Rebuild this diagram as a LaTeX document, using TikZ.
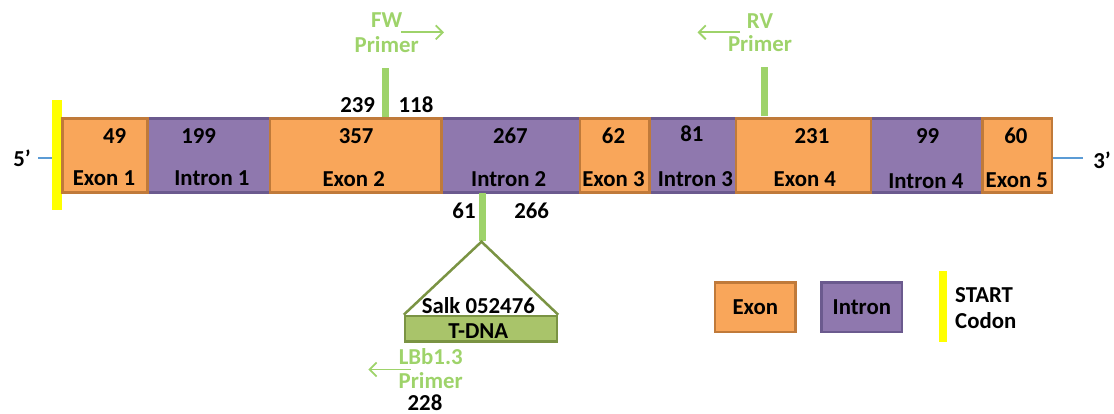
\documentclass[tikz,border=0pt]{standalone}
\usepackage{fontspec}
\setmainfont{Carlito}
\usetikzlibrary{arrows.meta}
\definecolor{exonfill}{HTML}{F9A65A}
\definecolor{exonline}{HTML}{C07A3A}
\definecolor{intronfill}{HTML}{8F78AE}
\definecolor{intronline}{HTML}{6B5A8E}
\definecolor{primerc}{HTML}{9ED36A}
\definecolor{tdnafill}{HTML}{A9C46A}
\definecolor{tdnaline}{HTML}{7A9343}
\definecolor{dnaline}{HTML}{5B9BD5}
\definecolor{startc}{HTML}{FFFF00}
\begin{document}
\begin{tikzpicture}[x=1pt,y=-1pt,
  font=\fontsize{22.8}{26}\selectfont\bfseries,
  exonbox/.style={draw=exonline, fill=exonfill, line width=2.5pt, inner sep=0pt, minimum height=74.4pt},
  intronbox/.style={draw=intronline, fill=intronfill, line width=2.5pt, inner sep=0pt, minimum height=74.4pt},
  legbox/.style={line width=2.5pt, inner sep=0pt, minimum height=49.3pt, minimum width=80.5pt, text height=14pt, text depth=0pt},
  txt/.style={inner sep=0pt, text height=14pt, text depth=0pt},
  gtxt/.style={txt, text=primerc},
  bar/.style={fill=primerc, inner sep=0pt, minimum width=6.5pt},
  ybar/.style={fill=startc, inner sep=0pt},
  parrow/.style={draw=primerc, line width=1.8pt, -{Straight Barb[length=7pt,width=14pt,line width=1.8pt]}},
  dna/.style={draw=dnaline, line width=1.2pt}
]
\useasboundingbox (0,0) rectangle (1114,414);

% start codon bar
\node[ybar, minimum width=9.4pt, minimum height=110pt] (start) at (57,155) {};

% introns
\node[intronbox, minimum width=122.7pt] (i1) at (208.65,155.5) {};
\node[intronbox, minimum width=138.3pt] (i2) at (510.85,155.5) {};
\node[intronbox, minimum width=86.5pt] (i3) at (692.75,155.5) {};
\node[intronbox, minimum width=111.2pt] (i4) at (926.7,155.5) {};
% exons
\node[exonbox, minimum width=85pt] (e1) at (104.8,155.5) {};
\node[exonbox, minimum width=171.7pt] (e2) at (355.85,155.5) {};
\node[exonbox, minimum width=69.5pt] (e3) at (614.75,155.5) {};
\node[exonbox, minimum width=135.1pt] (e4) at (803.55,155.5) {};
\node[exonbox, minimum width=69.7pt] (e5) at (1017.15,155.5) {};

% sizes and labels
\node[txt] (n1) at (114.7,136.5) {49};
\node[txt] (l1) at (104,179) {Exon 1};
\node[txt] (n2) at (198.7,137) {199};
\node[txt] (l2) at (211.9,179) {Intron 1};
\node[txt] (n3) at (356.2,137) {357};
\node[txt] (l3) at (353.7,180) {Exon 2};
\node[txt] (n4) at (510.4,137) {267};
\node[txt] (l4) at (508.7,180) {Intron 2};
\node[txt] (n5) at (613.5,136.6) {62};
\node[txt] (l5) at (613.5,179.6) {Exon 3};
\node[txt] (n6) at (691.9,134.6) {81};
\node[txt] (l6) at (695.4,179.6) {Intron 3};
\node[txt] (n7) at (812,136.6) {231};
\node[txt] (l7) at (804.8,179.6) {Exon 4};
\node[txt] (n8) at (927.6,136.6) {99};
\node[txt] (l8) at (925.8,181.6) {Intron 4};
\node[txt] (n9) at (1015.8,136.6) {60};
\node[txt] (l9) at (1016.8,180.6) {Exon 5};

% ends
\node[txt] (p5) at (22,159.6) {5’};
\node[txt] (p3) at (1102,161.7) {3’};
\coordinate (b5) at (38,158);
\coordinate (b3) at (1083,158);
\draw[dna] (b5) -- (b5 -| start.west);
\draw[dna] (b3 -| e5.east) -- (b3);

% FW primer
\node[bar, minimum height=48.4pt] (fwbar) at (385.3,92.5) {};
\node[gtxt] (fw) at (386.7,20.7) {FW};
\node[gtxt] (fwp) at (386.7,45.5) {Primer};
\coordinate (fwa) at (401,32.3);
\coordinate (fwb) at (444,32.3);
\draw[parrow] (fwa) -- (fwb);
\node[txt] (f239) at (357.7,106) {239};
\node[txt] (f118) at (416,106) {118};

% RV primer
\node[bar, minimum height=49pt] (rvbar) at (764.5,91.5) {};
\node[gtxt] (rv) at (760,21.7) {RV};
\node[gtxt] (rvp) at (760,45) {Primer};
\coordinate (rva) at (740,32.3);
\coordinate (rvb) at (697.5,32.3);
\draw[parrow] (rva) -- (rvb);

% T-DNA insertion
\node[bar, minimum width=6.7pt, minimum height=48.3pt] (ins) at (482.7,216.85) {};
\node[txt] (t61) at (464,212) {61};
\node[txt] (t266) at (531.7,212) {266};
\node[draw=tdnaline, fill=tdnafill, line width=2.5pt, inner sep=0pt, minimum width=152pt, minimum height=25.7pt] (tdna) at (481,328.85) {};
\coordinate (apex) at (481.5,241.7);
\draw[draw=tdnaline, line width=2.5pt, line join=miter] (tdna.north west) -- (apex) -- (tdna.north east);
\node[txt] (salk) at (478.3,306) {Salk 052476};
\node[txt] (tlab) at (478.3,331) {T-DNA};

% LBb1.3 primer
\node[gtxt] (lb) at (430.7,357.5) {LBb1.3};
\node[gtxt] (lbp) at (430.7,381.5) {Primer};
\coordinate (lba) at (410.7,369.5);
\coordinate (lbb) at (368.3,369.5);
\draw[parrow] (lba) -- (lbb);
\node[txt] (l228) at (425,403.3) {228};

% legend
\node[legbox, draw=exonline, fill=exonfill] (legexon) at (755.35,307.35) {Exon};
\node[legbox, draw=intronline, fill=intronfill] (legintron) at (861.85,307.35) {Intron};
\node[ybar, minimum width=7.7pt, minimum height=71pt] (legstart) at (942.8,306.5) {};
\node[txt, anchor=west] (legs1) at (955,295) {START};
\node[txt, anchor=west] (legs2) at (955,321.7) {Codon};
\end{tikzpicture}
\end{document}
